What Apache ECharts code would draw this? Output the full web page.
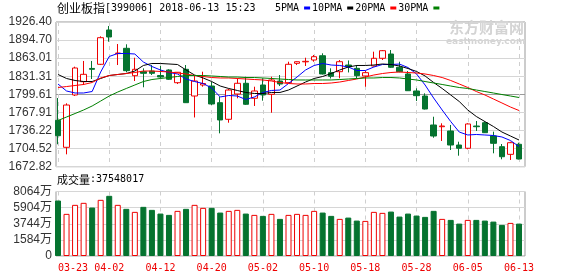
<!DOCTYPE html>
<html>
<head>
<meta charset="utf-8">
<script src="https://cdn.jsdelivr.net/npm/echarts@6/dist/echarts.min.js"></script>
<style>html,body{margin:0;padding:0;background:#fff}#c{width:578px;height:276px}</style>
</head>
<body>
<div id="c"></div>
<script>
const dates = ['03-23','03-26','03-27','03-28','03-29','03-30','04-02','04-03','04-04','04-09','04-10','04-11','04-12','04-13','04-16','04-17','04-18','04-19','04-20','04-23','04-24','04-25','04-26','04-27','05-02','05-03','05-04','05-07','05-08','05-09','05-10','05-11','05-14','05-15','05-16','05-17','05-18','05-21','05-22','05-23','05-24','05-25','05-28','05-29','05-30','05-31','06-01','06-04','06-05','06-06','06-07','06-08','06-11','06-12','06-13'];
const openP = [1754.1,1706.8,1798.5,1821.8,1845.0,1852.3,1912.4,1871.0,1880.3,1832.3,1839.3,1840.5,1832.6,1842.3,1820.0,1843.5,1796.7,1816.0,1814.2,1785.0,1755.9,1800.2,1819.0,1792.7,1816.0,1799.7,1823.0,1820.0,1854.0,1856.6,1859.8,1867.3,1837.6,1839.3,1851.0,1845.2,1831.8,1849.3,1862.8,1870.3,1847.0,1835.3,1805.5,1796.7,1745.9,1742.9,1735.4,1710.8,1705.1,1744.1,1749.9,1726.6,1707.9,1694.5,1712.1];
const closeP = [1727.1,1780.9,1845.8,1834.7,1843.5,1898.9,1900.1,1872.0,1841.1,1843.5,1836.5,1836.5,1830.0,1826.0,1838.3,1785.0,1823.0,1818.6,1782.7,1754.7,1807.2,1819.0,1782.2,1805.5,1798.5,1824.8,1817.7,1852.3,1856.8,1857.5,1865.6,1835.3,1831.2,1856.8,1848.1,1832.3,1837.6,1862.8,1876.1,1847.0,1839.3,1806.0,1797.3,1773.9,1726.6,1744.1,1710.8,1705.1,1747.7,1742.9,1732.4,1713.8,1690.3,1714.9,1686.3];
const lowP = [1712.1,1694.5,1796.7,1816.0,1826.5,1851.0,1891.9,1851.0,1838.2,1823.0,1812.0,1833.5,1827.4,1824.8,1817.7,1784.5,1759.1,1813.0,1781.0,1731.3,1749.9,1792.7,1781.0,1779.2,1788.5,1767.4,1814.2,1819.0,1851.0,1849.3,1856.8,1834.4,1827.4,1827.7,1838.0,1827.7,1813.0,1848.5,1859.8,1845.8,1838.2,1805.5,1788.0,1773.1,1723.6,1717.9,1702.1,1692.1,1703.3,1735.4,1731.9,1696.3,1685.8,1684.6,1685.5];
const highP = [1793.2,1783.9,1848.1,1858.1,1858.1,1901.3,1919.4,1887.8,1887.3,1863.8,1845.2,1851.0,1849.3,1843.5,1838.8,1851.0,1831.8,1839.3,1821.2,1795.5,1809.0,1827.7,1830.5,1813.0,1827.7,1830.5,1833.5,1856.8,1857.5,1863.8,1868.6,1871.5,1845.2,1859.8,1859.0,1851.0,1840.5,1874.4,1877.3,1877.3,1856.8,1840.5,1810.2,1801.4,1760.4,1748.9,1745.9,1716.6,1748.9,1752.9,1752.4,1734.2,1712.6,1716.6,1714.9];
const ma5 = [1817.7,1805.5,1802.0,1802.0,1804.6,1838.8,1866.0,1871.2,1871.2,1870.3,1856.3,1848.4,1842.3,1837.9,1835.3,1826.5,1822.1,1818.6,1810.7,1795.0,1797.6,1796.7,1790.6,1795.0,1802.9,1806.4,1807.2,1818.6,1830.0,1842.3,1850.2,1853.7,1851.0,1850.2,1847.5,1841.4,1841.4,1847.5,1851.9,1851.9,1852.7,1846.6,1835.3,1816.0,1793.2,1772.2,1752.0,1733.6,1728.4,1729.3,1728.4,1727.5,1724.9,1718.7,1708.2];
const ma10 = [1834.4,1827.4,1823.9,1822.1,1822.1,1827.4,1832.6,1834.4,1836.1,1840.5,1850.2,1853.7,1853.7,1852.8,1851.9,1842.3,1833.5,1828.3,1822.1,1814.2,1809.9,1806.4,1802.9,1801.1,1801.1,1802.9,1802.9,1807.2,1814.2,1821.2,1827.4,1830.9,1836.1,1842.3,1847.5,1850.2,1850.2,1851.0,1852.8,1851.9,1849.3,1844.9,1839.7,1831.8,1820.4,1809.9,1798.5,1787.1,1772.2,1760.8,1752.0,1743.3,1733.6,1726.6,1719.6];
const ma20 = [1811.6,1813.3,1815.1,1816.9,1820.4,1828.3,1832.6,1834.4,1836.1,1837.9,1840.5,1840.5,1839.7,1838.8,1837.0,1835.3,1832.6,1830.9,1829.1,1828.3,1828.3,1827.4,1826.5,1825.6,1824.8,1823.0,1820.4,1818.6,1817.8,1817.8,1818.6,1818.6,1819.5,1821.2,1823.9,1826.5,1830.0,1833.5,1836.1,1837.9,1838.8,1837.9,1837.0,1835.3,1832.6,1829.1,1823.9,1817.8,1811.6,1804.6,1798.5,1791.5,1784.5,1777.4,1771.3];
const ma30 = [1753.8,1759.9,1766.0,1772.2,1779.2,1787.9,1796.7,1803.7,1809.9,1816.0,1822.1,1825.6,1827.4,1829.1,1830.9,1832.6,1832.6,1832.6,1831.8,1830.9,1830.0,1830.0,1829.1,1829.1,1828.3,1827.4,1826.5,1825.6,1824.8,1824.8,1824.8,1824.8,1824.8,1825.6,1826.5,1827.4,1828.3,1828.3,1829.1,1829.1,1828.3,1826.5,1824.8,1822.1,1819.5,1816.9,1814.2,1811.6,1809.9,1807.2,1804.6,1802.0,1799.3,1796.7,1794.1];
const volume = [6935,5267,6395,6646,6057,7022,7524,6395,5894,5518,6145,5768,5304,5141,5643,5894,6395,6019,6019,5430,5643,5768,5304,5141,5016,5267,4640,5141,5267,5141,5643,5430,5016,4640,4803,4427,4389,5518,5392,5555,4928,5304,5054,4891,5643,4640,4514,4050,4514,4514,4427,4301,3887,4138,4050];
const priceTicks = ['1672.82','1704.52','1736.22','1767.91','1799.61','1831.31','1863.01','1894.70','1926.40'];
const volTicks = ['0','1584万','3744万','5904万','8064万'];
const maNames = ['5PMA','10PMA','20PMA','30PMA'];

const RED = '#ee0000', GREEN = '#05732f';
const MONO = 'DejaVu Sans Mono';
const SANS = 'Liberation Sans, Noto Sans CJK SC';
const pMin = parseFloat(priceTicks[0]), pMax = parseFloat(priceTicks[priceTicks.length-1]);
const pInt = (pMax - pMin) / (priceTicks.length - 1);
const vMax = parseFloat(volTicks[volTicks.length-1]);
const vInt = vMax / (volTicks.length - 1);

function nearestLabel(v) {
  let best = 0, bd = Infinity;
  priceTicks.forEach((t, i) => { const d = Math.abs(parseFloat(t) - v); if (d < bd) { bd = d; best = i; } });
  return priceTicks[best];
}

const chart = echarts.init(document.getElementById('c'), null, {renderer: 'canvas'});
const dashed = {show: true, interval: 5, lineStyle: {color: '#cfcfcf', type: [4, 4], width: 1}};
const hiddenAxis = {show: false};
const priceSplitColors = priceTicks.map((t, i) => i === 4 ? '#9a9a9a' : '#d6d6d6');

const option = {
  animation: false,
  backgroundColor: '#fff',
  legend: {
    data: maNames, left: 275, top: 3, itemWidth: 6, itemHeight: 3, itemGap: 2, align: 'right',
    icon: 'rect', padding: 0,
    textStyle: {fontFamily: MONO, fontSize: 10, color: '#000', padding: [0,0,0,0]}
  },
  grid: [
    {left: 56, top: 22, width: 469, height: 144.7, show: true, borderColor: '#999', borderWidth: 1, backgroundColor: 'transparent'},
    {left: 58, top: 22, width: 461, height: 144.7},
    {left: 56, top: 191.5, width: 469, height: 64.5, show: true, borderColor: '#999', borderWidth: 1, backgroundColor: 'transparent'},
    {left: 58, top: 191.5, width: 461, height: 64.5}
  ],
  xAxis: [
    {type: 'value', gridIndex: 0, min: 0, max: 1, show: false},
    {type: 'category', gridIndex: 1, data: dates, boundaryGap: false, axisLine: {show: false}, axisTick: {show: false}, axisLabel: {show: false}, splitLine: dashed},
    {type: 'value', gridIndex: 2, min: 0, max: 1, show: false},
    {type: 'category', gridIndex: 3, data: dates, boundaryGap: false, axisLine: {show: false}, axisTick: {show: false},
      axisLabel: {show: true, interval: 5, color: RED, fontFamily: MONO, fontSize: 10, margin: 7, alignMinLabel: 'left', alignMaxLabel: 'center', showMinLabel: true, showMaxLabel: true},
      splitLine: dashed}
  ],
  yAxis: [
    {type: 'value', gridIndex: 0, min: pMin, max: pMax, interval: pInt, scale: true,
      axisLine: {show: false}, axisTick: {show: false},
      axisLabel: {color: '#333', fontFamily: SANS, fontSize: 12, margin: 4, formatter: (v) => nearestLabel(v)},
      splitLine: {show: true, lineStyle: {color: priceSplitColors, width: 1}}},
    {type: 'value', gridIndex: 1, min: pMin, max: pMax, scale: true, show: false, splitLine: {show: false}},
    {type: 'value', gridIndex: 2, min: 0, max: vMax, interval: vInt,
      axisLine: {show: false}, axisTick: {show: false},
      axisLabel: {color: '#333', fontFamily: SANS, fontSize: 12, margin: 4, formatter: (v) => volTicks[Math.round(v / vInt)]},
      splitLine: {show: true, lineStyle: {color: '#d6d6d6', width: 1}}},
    {type: 'value', gridIndex: 3, min: 0, max: vMax, show: false, splitLine: {show: false}}
  ],
  graphic: [
    {type: 'text', left: 57, top: 2, z: 10, style: {
      text: '{a|创业板指}{b|[399006] 2018-06-13 15:23}',
      rich: {a: {fontFamily: 'Noto Sans CJK SC', fontSize: 12, fill: '#000'}, b: {fontFamily: MONO, fontSize: 10, fill: '#000'}}
    }},
    {type: 'text', left: 57, top: 174, z: 10, style: {
      text: '{a|成交量}{b|:37548017}',
      rich: {a: {fontFamily: 'Noto Sans CJK SC', fontSize: 11, fill: '#000'}, b: {fontFamily: MONO, fontSize: 10, fill: '#000'}}
    }},
    {type: 'text', left: 449, top: 20, z: 0, style: {text: '东方财富网', fontFamily: 'Noto Sans CJK SC', fontWeight: 'bold', fontSize: 15, fill: '#d4d4d4'}},
    {type: 'text', left: 446, top: 37, z: 0, style: {text: 'eastmoney.com', fontFamily: 'DejaVu Sans', fontWeight: 'bold', fontSize: 9, fill: '#d4d4d4'}}
  ],
  series: [
    {type: 'candlestick', name: 'K', xAxisIndex: 1, yAxisIndex: 1, barWidth: 6, clip: false,
      data: dates.map((d, i) => [openP[i], closeP[i], lowP[i], highP[i]]),
      itemStyle: {color: '#fff', color0: GREEN, borderColor: RED, borderColor0: GREEN, borderWidth: 1}},
    {type: 'line', name: maNames[0], xAxisIndex: 1, yAxisIndex: 1, data: ma5, showSymbol: false, symbol: 'none', clip: false, color: '#0000ff', lineStyle: {width: 1, color: '#0000ff'}},
    {type: 'line', name: maNames[1], xAxisIndex: 1, yAxisIndex: 1, data: ma10, showSymbol: false, symbol: 'none', clip: false, color: '#000000', lineStyle: {width: 1, color: '#000000'}},
    {type: 'line', name: maNames[2], xAxisIndex: 1, yAxisIndex: 1, data: ma20, showSymbol: false, symbol: 'none', clip: false, color: '#ff0000', lineStyle: {width: 1, color: '#ff0000'}},
    {type: 'line', name: maNames[3], xAxisIndex: 1, yAxisIndex: 1, data: ma30, showSymbol: false, symbol: 'none', clip: false, color: '#008000', lineStyle: {width: 1, color: '#008000'}},
    {type: 'bar', name: 'VOL', xAxisIndex: 3, yAxisIndex: 3, barWidth: 6, clip: false,
      data: volume.map((v, i) => ({value: v, itemStyle: closeP[i] >= openP[i]
        ? {color: '#fff', borderColor: RED, borderWidth: 1}
        : {color: GREEN, borderColor: GREEN, borderWidth: 1}}))}
  ]
};
chart.setOption(option);
</script>
</body>
</html>
